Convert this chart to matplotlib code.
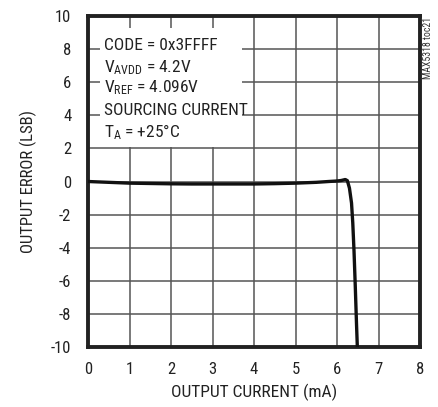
import matplotlib
matplotlib.use("Agg")
import matplotlib.pyplot as plt
from matplotlib.patches import Rectangle

plt.rcParams['font.family'] = ['Roboto Condensed', 'DejaVu Sans']
plt.rcParams['mathtext.fontset'] = 'custom'
plt.rcParams['mathtext.rm'] = 'Roboto Condensed'
plt.rcParams['axes.unicode_minus'] = False

current_mA = [0.0, 0.5, 1.0, 1.5, 2.0, 2.5, 3.0, 3.5, 4.0, 4.5, 5.0, 5.5, 5.8, 6.0, 6.1, 6.2, 6.25, 6.3, 6.35, 6.38, 6.41, 6.44, 6.47, 6.49]
error_lsb = [0.0, -0.05, -0.1, -0.12, -0.14, -0.15, -0.15, -0.15, -0.15, -0.13, -0.1, -0.05, 0.0, 0.03, 0.06, 0.12, 0.05, -0.4, -1.3, -2.5, -4.2, -6.3, -8.6, -10.0]

xticks = list(range(0, 9))
yticks = list(range(-10, 11, 2))

info_lines = ['CODE = 0x3FFFF',
              '$\\mathregular{V_{AVDD}}$ = 4.2V',
              '$\\mathregular{V_{REF}}$ = 4.096V',
              'SOURCING CURRENT',
              '$\\mathregular{T_{A}}$ = +25°C']

fig = plt.figure(figsize=(4.38, 4.07), dpi=100)
ax = fig.add_axes([88/438, 1 - 347/407, (420-88)/438, (347-16)/407])
ax.set_xlim(0, 8)
ax.set_ylim(-10, 10)
ax.set_xticks(xticks)
ax.set_yticks(yticks)
ax.grid(True, color='#555555', linewidth=1.1)
ax.set_axisbelow(True)
for s in ax.spines.values():
    s.set_linewidth(2.8)
    s.set_color('#222222')
ax.tick_params(length=0, labelsize=12, colors='#222222')
ax.tick_params(axis='x', pad=11)
ax.tick_params(axis='y', pad=12)
ax.plot(current_mA, error_lsb, color='#111111', linewidth=2.4, solid_joinstyle='round', zorder=3)

ax.set_xlabel('OUTPUT CURRENT (mA)', fontsize=12.5, color='#222222', labelpad=5)
ax.set_ylabel('OUTPUT ERROR (LSB)', fontsize=12, color='#222222', labelpad=10)

ax.add_patch(Rectangle((0.036, 0.604), 0.428, 0.36, transform=ax.transAxes,
                       facecolor='white', edgecolor='none', zorder=2))
baselines = [0.897, 0.831, 0.770, 0.701, 0.634]
for txt, yb in zip(info_lines, baselines):
    ax.text(0.048, yb, txt, transform=ax.transAxes, va='baseline', ha='left',
            fontsize=12.5, color='#222222', zorder=4)

fig.text(428/438, 1 - 17/407, 'MAX5318 toc21', rotation=90, va='top', ha='center',
         fontsize=7, color='#333333')

fig.savefig('out.png', dpi=100)
